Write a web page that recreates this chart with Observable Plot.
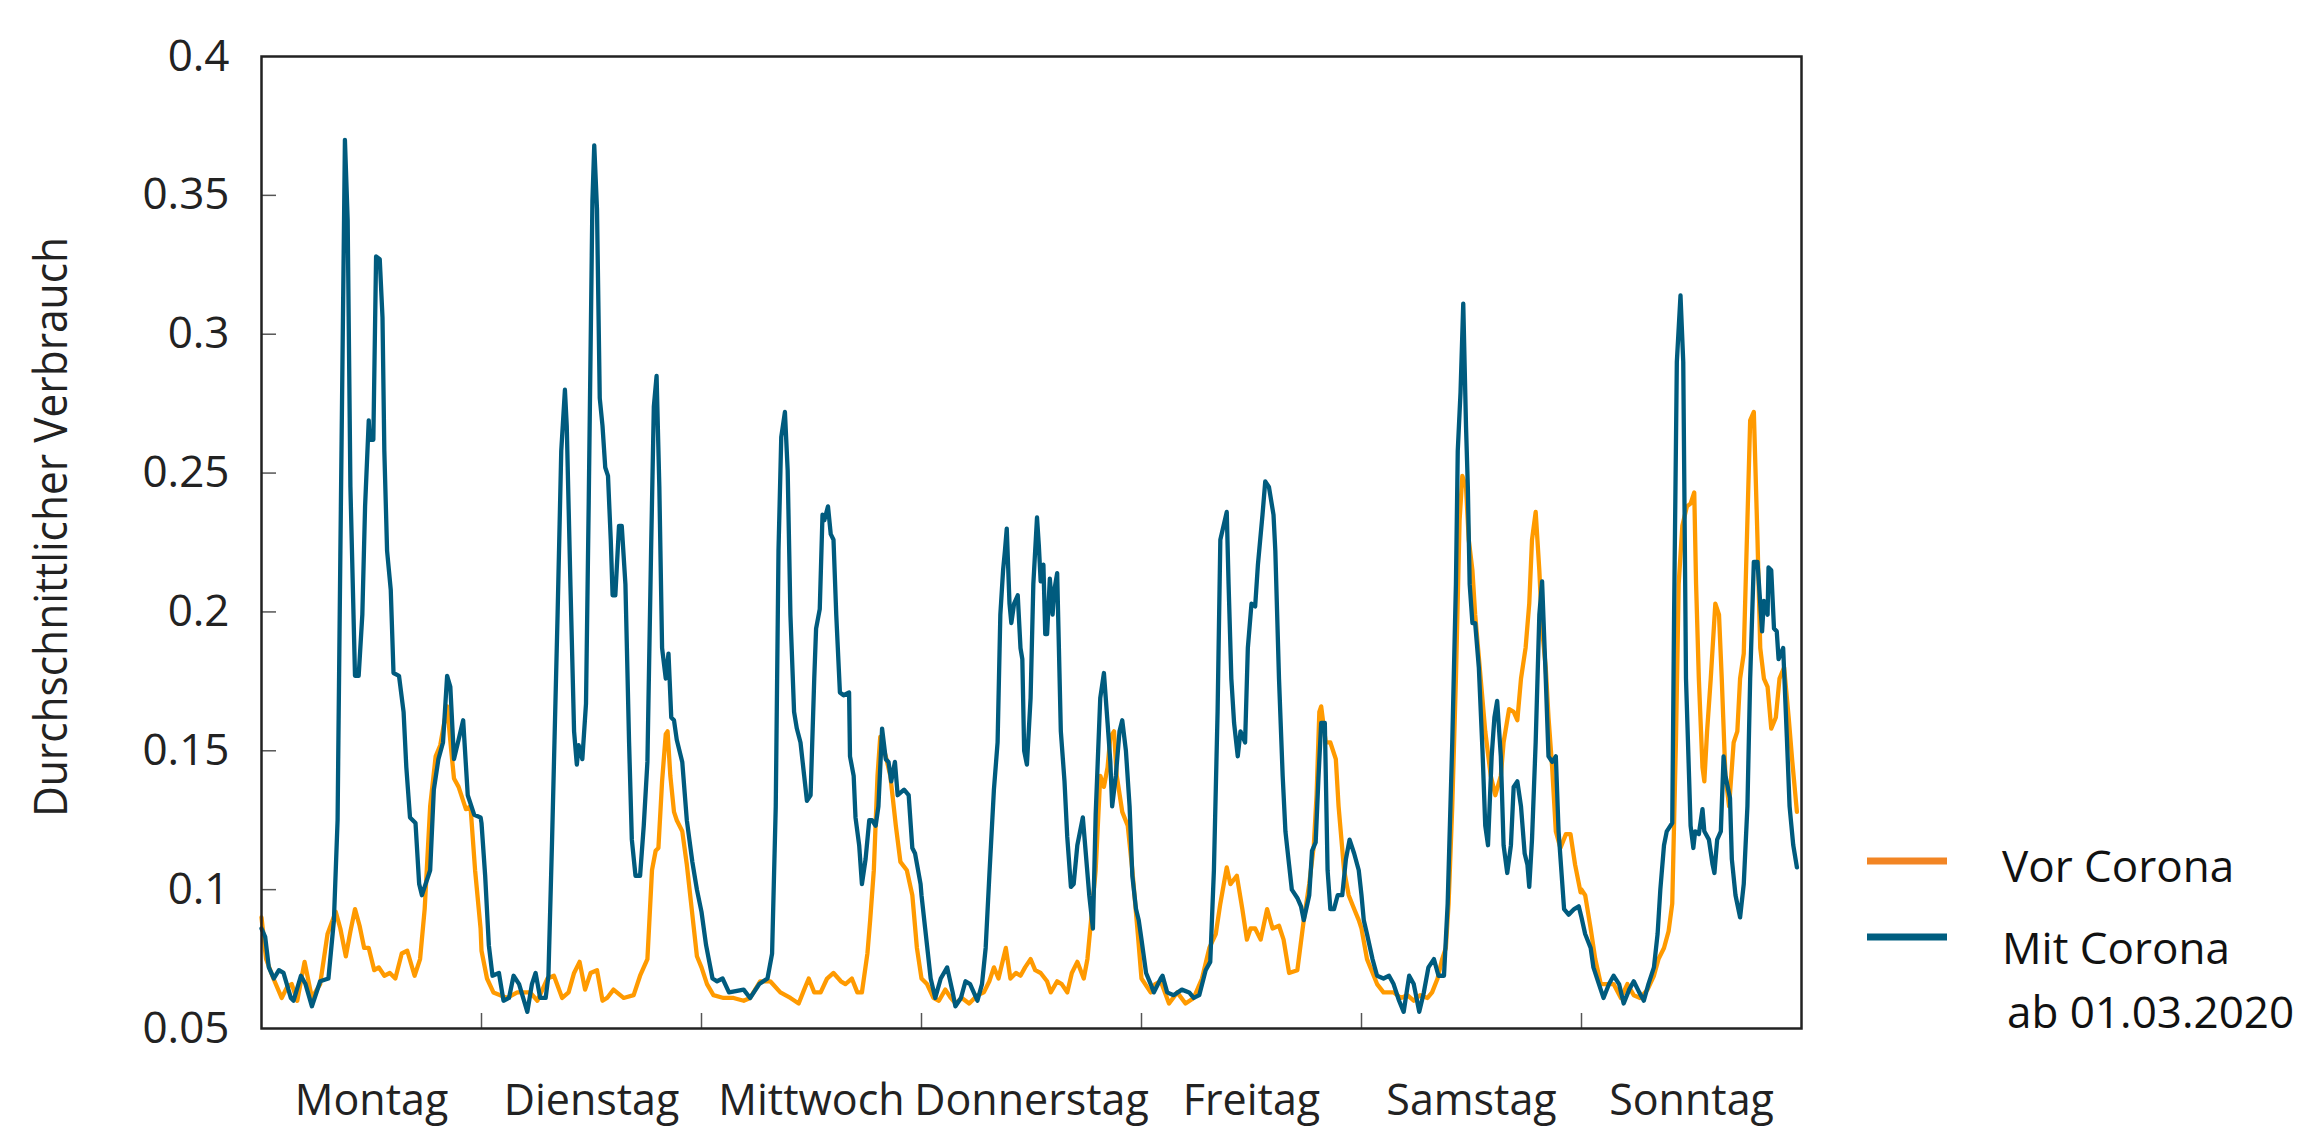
<!DOCTYPE html>
<html>
<head>
<meta charset="utf-8">
<script src="https://cdn.jsdelivr.net/npm/d3@7"></script>
<script src="https://cdn.jsdelivr.net/npm/@observablehq/plot@0.6"></script>
<style>
  html, body { margin: 0; padding: 0; background: #fff; }
  #chart svg { display: block; }
</style>
</head>
<body>
<div id="chart"></div>
<script>
// ---- categories / ticks ----
const days = ["Montag", "Dienstag", "Mittwoch", "Donnerstag", "Freitag", "Samstag", "Sonntag"];
const yTicks = [0.05, 0.1, 0.15, 0.2, 0.25, 0.3, 0.35, 0.4];
const dayBounds = [24, 48, 72, 96, 120, 144];
const seriesNames = ["Vor Corona", "Mit Corona", "ab 01.03.2020"];
const yLabel = "Durchschnittlicher Verbrauch";

// ---- series values: [hour of day, average consumption] ----
const monVor = [[0,0.090],[0.5,0.075],[1.3,0.068],[2.2,0.061],[2.8,0.065],[3.3,0.066],[3.9,0.060],[4.7,0.074],[5.5,0.061],[6.4,0.066],[7.2,0.084],[8.1,0.092],[8.6,0.086],[9.2,0.076],[9.7,0.085],[10.2,0.093],[10.7,0.087],[11.2,0.079],[11.7,0.079],[12.3,0.071],[12.8,0.072],[13.4,0.069],[14,0.070],[14.6,0.068],[15.3,0.077],[15.9,0.078],[16.7,0.069],[17.3,0.075],[17.8,0.093],[18.4,0.130],[19.0,0.148],[19.5,0.152],[20.25,0.166],[20.7,0.150],[21.0,0.140],[21.5,0.137],[22.3,0.129],[22.8,0.130],[23.3,0.107],[23.9,0.086]];
const monMit = [[0,0.086],[0.4,0.083],[0.8,0.072],[1.35,0.068],[1.9,0.071],[2.4,0.070],[3.2,0.061],[3.5,0.060],[4.3,0.069],[4.8,0.066],[5.5,0.058],[6.4,0.067],[7.3,0.068],[7.9,0.089],[8.3,0.125],[8.6,0.22],[9.1,0.37],[9.4,0.341],[9.7,0.245],[10.2,0.177],[10.6,0.177],[11,0.199],[11.3,0.238],[11.7,0.269],[11.8,0.262],[12.2,0.262],[12.5,0.328],[12.9,0.327],[13.2,0.306],[13.4,0.258],[13.7,0.222],[14.1,0.208],[14.4,0.178],[15,0.177],[15.5,0.164],[15.8,0.144],[16.2,0.126],[16.8,0.124],[17.2,0.102],[17.5,0.098],[18.4,0.107],[18.8,0.136],[19.3,0.147],[19.8,0.153],[20.25,0.177],[20.6,0.173],[21,0.147],[21.5,0.154],[22,0.161],[22.5,0.134],[23.2,0.127],[23.9,0.126]];
const dieVor = [[0,0.078],[0.6,0.068],[1.3,0.063],[2.8,0.061],[3.9,0.063],[5.3,0.063],[6.1,0.060],[7.2,0.068],[7.9,0.069],[8.8,0.061],[9.5,0.063],[10.1,0.070],[10.7,0.074],[11.3,0.064],[11.9,0.070],[12.6,0.071],[13.2,0.060],[13.7,0.061],[14.4,0.064],[15.5,0.061],[16.6,0.062],[17.3,0.069],[18.1,0.075],[18.6,0.107],[19,0.114],[19.3,0.115],[19.7,0.139],[20.1,0.156],[20.3,0.157],[20.6,0.141],[21,0.128],[21.3,0.125],[21.9,0.121],[22.4,0.109],[23,0.091],[23.5,0.076]];
const dieMit = [[0,0.124],[0.4,0.105],[0.8,0.080],[1.2,0.069],[1.9,0.070],[2.4,0.060],[3,0.061],[3.5,0.069],[4.1,0.066],[5,0.056],[5.5,0.066],[5.9,0.070],[6.4,0.061],[7,0.061],[7.3,0.069],[7.7,0.118],[8.3,0.199],[8.7,0.258],[9.1,0.280],[9.3,0.267],[9.7,0.210],[10.1,0.157],[10.4,0.145],[10.6,0.152],[11,0.147],[11.4,0.167],[11.7,0.240],[12.1,0.348],[12.3,0.368],[12.6,0.345],[12.9,0.277],[13.2,0.267],[13.5,0.252],[13.8,0.249],[14.1,0.226],[14.3,0.206],[14.6,0.206],[15,0.231],[15.3,0.231],[15.7,0.210],[16.1,0.153],[16.4,0.118],[16.8,0.105],[17.3,0.105],[17.7,0.123],[18.1,0.146],[18.5,0.222],[18.8,0.274],[19.1,0.285],[19.4,0.245],[19.7,0.187],[20.1,0.176],[20.4,0.185],[20.7,0.162],[21,0.161],[21.3,0.154],[21.9,0.146],[22.4,0.125],[23,0.110],[23.5,0.100]];
const mitVor = [[0,0.072],[0.6,0.066],[1.3,0.062],[2.4,0.061],[3.5,0.061],[4.6,0.060],[5.3,0.061],[6.4,0.067],[7.5,0.067],[8.6,0.063],[9.7,0.061],[10.6,0.059],[11.2,0.064],[11.7,0.068],[12.3,0.063],[13,0.063],[13.7,0.068],[14.4,0.070],[15.2,0.067],[15.7,0.066],[16.4,0.068],[17,0.063],[17.5,0.063],[18.1,0.077],[18.4,0.089],[18.8,0.107],[19.2,0.141],[19.5,0.155],[20.1,0.148],[20.6,0.141],[21.2,0.123],[21.7,0.110],[22.4,0.107],[23,0.098],[23.5,0.079]];
const mitMit = [[0,0.092],[0.5,0.080],[1.2,0.068],[1.7,0.067],[2.3,0.068],[3,0.063],[4.6,0.064],[5.3,0.061],[6.3,0.066],[7.2,0.068],[7.7,0.077],[8.1,0.130],[8.4,0.222],[8.7,0.263],[9.1,0.272],[9.4,0.251],[9.7,0.199],[10.1,0.164],[10.4,0.158],[10.8,0.153],[11.2,0.141],[11.5,0.132],[11.9,0.134],[12.3,0.176],[12.5,0.194],[12.9,0.201],[13.2,0.235],[13.4,0.233],[13.8,0.238],[14.1,0.228],[14.4,0.226],[14.7,0.199],[15.1,0.171],[15.5,0.170],[16.1,0.171],[16.2,0.148],[16.6,0.141],[16.8,0.126],[17.2,0.116],[17.5,0.102],[17.9,0.111],[18.3,0.125],[18.6,0.125],[19,0.123],[19.3,0.130],[19.7,0.158],[20.1,0.147],[20.4,0.146],[20.7,0.139],[21.1,0.146],[21.4,0.134],[22.1,0.136],[22.6,0.134],[23,0.115],[23.3,0.113],[23.9,0.102]];
const donVor = [[0,0.068],[0.6,0.066],[1.3,0.061],[1.9,0.060],[2.6,0.064],[3.2,0.061],[3.7,0.059],[4.4,0.061],[5.2,0.059],[6.1,0.062],[6.8,0.063],[7.4,0.067],[7.9,0.072],[8.4,0.068],[9.2,0.079],[9.7,0.068],[10.3,0.070],[10.8,0.069],[11.3,0.072],[11.9,0.075],[12.4,0.071],[13,0.070],[13.7,0.067],[14.1,0.063],[14.8,0.067],[15.3,0.066],[15.9,0.063],[16.4,0.070],[17,0.074],[17.7,0.068],[18.1,0.075],[18.5,0.089],[19,0.107],[19.5,0.141],[19.9,0.137],[20.3,0.144],[20.6,0.155],[21,0.157],[21.3,0.141],[21.9,0.128],[22.5,0.123],[23,0.107],[23.6,0.084]];
const donMit = [[0,0.098],[0.4,0.086],[1,0.068],[1.5,0.061],[2.1,0.068],[2.8,0.072],[3.4,0.063],[3.7,0.058],[4.3,0.061],[4.8,0.067],[5.3,0.066],[6.1,0.060],[6.6,0.066],[7,0.079],[7.4,0.105],[7.9,0.136],[8.3,0.153],[8.6,0.199],[8.9,0.215],[9.1,0.222],[9.3,0.230],[9.6,0.203],[9.8,0.196],[10.1,0.203],[10.5,0.206],[10.8,0.187],[11,0.183],[11.2,0.150],[11.5,0.145],[11.9,0.169],[12.2,0.210],[12.6,0.234],[12.8,0.224],[13,0.211],[13.3,0.217],[13.5,0.192],[13.7,0.192],[14,0.212],[14.3,0.199],[14.5,0.208],[14.8,0.214],[15.2,0.157],[15.6,0.139],[15.9,0.119],[16.3,0.101],[16.6,0.102],[17,0.116],[17.6,0.126],[17.9,0.114],[18.3,0.098],[18.7,0.086],[19,0.127],[19.5,0.169],[19.9,0.178],[20.3,0.160],[20.6,0.146],[20.8,0.130],[21.2,0.141],[21.6,0.157],[21.9,0.161],[22.3,0.150],[22.7,0.130],[23,0.105],[23.4,0.093],[23.7,0.089]];
const freVor = [[0,0.068],[1,0.063],[1.5,0.066],[2.1,0.067],[3,0.059],[3.9,0.063],[4.8,0.059],[5.7,0.061],[6.6,0.068],[7.4,0.079],[8.1,0.084],[8.6,0.095],[9.3,0.108],[9.7,0.102],[10.4,0.105],[11,0.093],[11.5,0.082],[11.9,0.086],[12.4,0.086],[13,0.082],[13.7,0.093],[14.3,0.086],[15,0.087],[15.5,0.082],[16.1,0.070],[17,0.071],[17.7,0.089],[18.3,0.102],[18.8,0.116],[19.1,0.134],[19.4,0.164],[19.6,0.166],[20.1,0.153],[20.6,0.153],[21.2,0.147],[21.5,0.130],[22.1,0.107],[22.6,0.098],[23.2,0.093],[23.7,0.089]];
const freMit = [[0,0.082],[0.5,0.070],[1,0.066],[1.35,0.063],[2.1,0.068],[2.3,0.069],[2.8,0.063],[3.5,0.062],[4.4,0.064],[5.2,0.063],[5.7,0.061],[6.3,0.062],[7,0.071],[7.5,0.074],[7.9,0.107],[8.3,0.164],[8.6,0.226],[9.3,0.236],[9.5,0.210],[9.8,0.176],[10.1,0.160],[10.5,0.148],[10.8,0.157],[11.3,0.153],[11.6,0.187],[12,0.203],[12.4,0.202],[12.7,0.217],[13.2,0.235],[13.5,0.247],[13.9,0.245],[14.4,0.235],[14.6,0.222],[15,0.176],[15.4,0.141],[15.7,0.121],[16.1,0.109],[16.4,0.100],[17,0.097],[17.4,0.094],[17.7,0.089],[18.3,0.098],[18.6,0.114],[19,0.117],[19.3,0.140],[19.6,0.160],[20,0.160],[20.3,0.107],[20.6,0.093],[21,0.093],[21.4,0.098],[21.9,0.098],[22.3,0.111],[22.7,0.118],[23.2,0.113],[23.7,0.107]];
const samVor = [[0,0.086],[0.6,0.075],[1.7,0.066],[2.4,0.063],[3.5,0.063],[4.3,0.061],[5,0.062],[5.7,0.060],[6.4,0.062],[7.2,0.061],[7.7,0.063],[8.3,0.068],[8.8,0.075],[9.2,0.079],[9.5,0.095],[9.9,0.130],[10.3,0.176],[10.7,0.233],[11,0.249],[11.4,0.245],[11.7,0.226],[12.1,0.215],[12.4,0.199],[13,0.176],[13.5,0.157],[14.1,0.141],[14.6,0.134],[15.2,0.141],[15.5,0.153],[16.1,0.165],[16.6,0.164],[17,0.161],[17.4,0.176],[17.9,0.187],[18.3,0.203],[18.6,0.226],[19,0.236],[19.4,0.215],[19.7,0.194],[20.1,0.180],[20.4,0.162],[20.8,0.144],[21.2,0.121],[21.7,0.115],[22.3,0.120],[22.8,0.120],[23.3,0.109],[23.9,0.099]];
const samMit = [[0,0.098],[0.25,0.089],[0.6,0.084],[1.2,0.075],[1.7,0.069],[2.4,0.068],[3,0.069],[3.5,0.066],[4.1,0.060],[4.6,0.056],[5.2,0.069],[5.7,0.066],[6.3,0.056],[6.8,0.063],[7.3,0.072],[7.9,0.075],[8.4,0.069],[9,0.069],[9.4,0.095],[9.9,0.153],[10.3,0.210],[10.5,0.258],[10.8,0.279],[11.1,0.311],[11.4,0.267],[11.6,0.245],[11.8,0.210],[12.1,0.196],[12.4,0.196],[12.8,0.180],[13.2,0.150],[13.5,0.123],[13.8,0.116],[14.2,0.148],[14.5,0.162],[14.8,0.168],[15.2,0.148],[15.5,0.116],[15.9,0.106],[16.3,0.116],[16.6,0.137],[17,0.139],[17.4,0.130],[17.8,0.113],[18.1,0.109],[18.3,0.101],[18.6,0.118],[19,0.153],[19.4,0.199],[19.7,0.211],[20.1,0.176],[20.4,0.148],[20.8,0.146],[21.2,0.148],[21.5,0.121],[22.1,0.093],[22.6,0.091],[23.2,0.093],[23.7,0.094]];
const sonVor = [[0,0.100],[0.4,0.098],[1,0.086],[1.5,0.075],[2.1,0.066],[2.8,0.066],[3.5,0.066],[4.3,0.061],[5,0.066],[5.7,0.062],[6.4,0.061],[7.2,0.064],[7.9,0.069],[8.4,0.075],[9,0.079],[9.5,0.085],[9.9,0.095],[10.3,0.153],[10.6,0.210],[11,0.231],[11.5,0.238],[11.9,0.239],[12.3,0.243],[12.5,0.210],[12.8,0.176],[13.2,0.144],[13.4,0.139],[13.7,0.157],[14.1,0.176],[14.6,0.203],[15,0.199],[15.3,0.176],[15.7,0.141],[16.1,0.130],[16.6,0.153],[17,0.157],[17.3,0.176],[17.7,0.185],[18.1,0.233],[18.4,0.269],[18.8,0.272],[19.2,0.226],[19.5,0.187],[19.9,0.176],[20.3,0.173],[20.7,0.158],[21.2,0.162],[21.6,0.176],[22.1,0.180],[22.6,0.162],[23,0.146],[23.5,0.128]];
const sonMit = [[0,0.090],[0.4,0.084],[1,0.079],[1.3,0.072],[1.9,0.066],[2.4,0.061],[3,0.066],[3.5,0.069],[4.1,0.066],[4.6,0.059],[5.2,0.064],[5.7,0.067],[6.3,0.063],[6.8,0.060],[7.3,0.066],[7.9,0.072],[8.3,0.084],[8.6,0.100],[9,0.116],[9.3,0.121],[9.9,0.124],[10.1,0.199],[10.4,0.290],[10.8,0.314],[11.1,0.290],[11.4,0.176],[11.9,0.123],[12.2,0.115],[12.4,0.121],[12.8,0.120],[13.2,0.129],[13.4,0.121],[13.9,0.118],[14.3,0.109],[14.5,0.106],[14.8,0.118],[15.2,0.121],[15.5,0.148],[15.7,0.141],[16.2,0.133],[16.4,0.111],[16.8,0.098],[17.3,0.090],[17.7,0.102],[18.1,0.130],[18.4,0.176],[18.8,0.218],[19.2,0.218],[19.7,0.193],[19.9,0.204],[20.3,0.199],[20.4,0.216],[20.7,0.215],[21,0.194],[21.3,0.193],[21.5,0.183],[22,0.187],[22.4,0.155],[22.7,0.130],[23.1,0.116],[23.5,0.108]];

const vorByDay = [monVor, dieVor, mitVor, donVor, freVor, samVor, sonVor];
const mitByDay = [monMit, dieMit, mitMit, donMit, freMit, samMit, sonMit];

const toRows = (byDay) => byDay.flatMap((pairs, d) => pairs.map(([h, v]) => ({t: d * 24 + h, v})));
const vorRows = toRows(vorByDay);
const mitRows = toRows(mitByDay);
const dayRows = days.map((name, i) => ({name, t: i * 24 + 12}));

// ---- layout / style ----
const W = 2313, H = 1139;
const mL = 261, mR = 512, mT = 56, mB = 111;
const plotW = W - mL - mR, plotH = H - mT - mB;
const orange = "#FF9A00", blue = "#005B7E";
const legendOrange = "#F28524", legendBlue = "#005E80";
const font = "'Open Sans', 'Noto Sans', sans-serif";

const chart = Plot.plot({
  width: W, height: H,
  marginLeft: mL, marginRight: mR, marginTop: mT, marginBottom: mB,
  style: {fontFamily: font, color: "#222", background: "#fff"},
  x: {domain: [0, 168], axis: null},
  y: {domain: [0.05, 0.4], axis: null},
  marks: [
    Plot.tickY(yTicks.slice(1, -1), {y: d => d, stroke: "#555", strokeWidth: 1.5, insetRight: plotW - 15}),
    Plot.tickX(dayBounds, {x: d => d, stroke: "#555", strokeWidth: 1.5, insetTop: plotH - 15}),
    Plot.axisY(yTicks, {tickSize: 0, tickPadding: 32, fontSize: 44, label: null, tickFormat: d => String(d), fill: "#222"}),
    Plot.text(dayRows, {x: "t", text: "name", frameAnchor: "bottom", dy: 86, fontSize: 43, fill: "#222"}),
    Plot.line(vorRows, {x: "t", y: "v", stroke: orange, strokeWidth: 4.3, strokeLinejoin: "round"}),
    Plot.line(mitRows, {x: "t", y: "v", stroke: blue, strokeWidth: 4.3, strokeLinejoin: "round"}),
    Plot.frame({stroke: "#222", strokeWidth: 2.5})
  ]
});

// y-axis title (condensed) and legend
const svg = d3.select(chart);
svg.append("text")
  .attr("transform", `translate(67,${mT + plotH / 2 - 15}) rotate(-90)`)
  .attr("text-anchor", "middle")
  .attr("font-family", font)
  .attr("font-size", 46)
  .attr("fill", "#222")
  .attr("textLength", 580)
  .attr("lengthAdjust", "spacingAndGlyphs")
  .text(yLabel);

const lg = svg.append("g").attr("font-family", font).attr("font-size", 44).attr("fill", "#111").attr("text-anchor", "start");
lg.append("line").attr("x1", 1867).attr("x2", 1947).attr("y1", 861).attr("y2", 861)
  .attr("stroke", legendOrange).attr("stroke-width", 7);
lg.append("line").attr("x1", 1867).attr("x2", 1947).attr("y1", 937).attr("y2", 937)
  .attr("stroke", legendBlue).attr("stroke-width", 7);
lg.append("text").attr("x", 2002).attr("y", 882).attr("text-anchor", "start").text(seriesNames[0]);
lg.append("text").attr("x", 2002).attr("y", 964).attr("text-anchor", "start").text(seriesNames[1]);
lg.append("text").attr("x", 2007).attr("y", 1028).attr("text-anchor", "start").text(seriesNames[2]);

document.getElementById("chart").appendChild(chart);
</script>
</body>
</html>
